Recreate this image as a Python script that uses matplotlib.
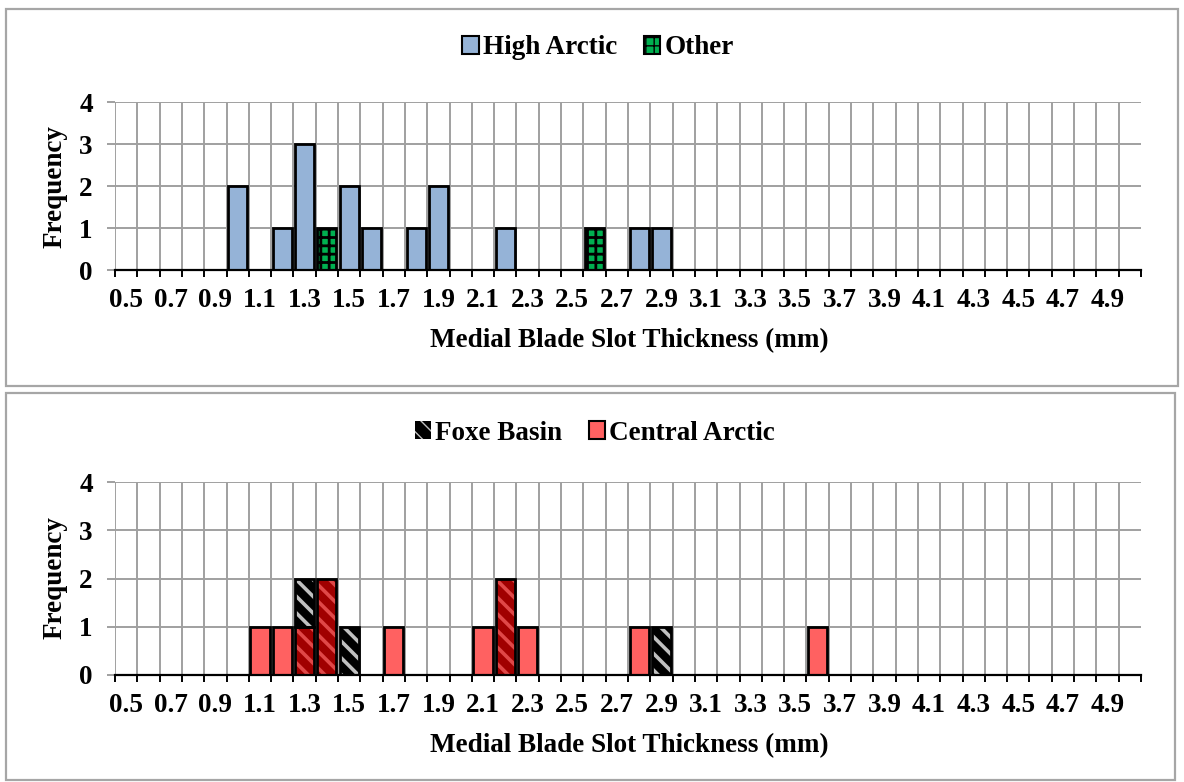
import numpy as np
import matplotlib
matplotlib.use("Agg")
import matplotlib.pyplot as plt
from matplotlib.patches import Patch, Rectangle

# Category axis (mm)
thickness = [0.5, 0.6, 0.7, 0.8, 0.9, 1.0, 1.1, 1.2, 1.3, 1.4, 1.5, 1.6, 1.7, 1.8, 1.9,
             2.0, 2.1, 2.2, 2.3, 2.4, 2.5, 2.6, 2.7, 2.8, 2.9, 3.0, 3.1, 3.2, 3.3, 3.4,
             3.5, 3.6, 3.7, 3.8, 3.9, 4.0, 4.1, 4.2, 4.3, 4.4, 4.5, 4.6, 4.7, 4.8, 4.9, 5.0]

# Top panel
high_arctic_x = [1.0, 1.2, 1.3, 1.5, 1.6, 1.8, 1.9, 2.2, 2.8, 2.9]
high_arctic_n = [2, 1, 3, 2, 1, 1, 2, 1, 1, 1]
other_x = [1.4, 2.6]
other_n = [1, 1]

# Bottom panel
central_x = [1.1, 1.2, 1.7, 2.1, 2.3, 2.8, 3.6]
central_n = [1, 1, 1, 1, 1, 1, 1]
central_dark_x = [1.3, 1.4, 2.2]
central_dark_n = [1, 2, 2]
foxe_x = [1.3, 1.5, 2.9]
foxe_n = [1, 1, 1]

plt.rcParams['font.family'] = ['Liberation Serif', 'DejaVu Serif']
plt.rcParams['font.weight'] = 'bold'
FS = 19.5
W, H = 1184, 782
GRID = '#A0A0A0'
BW = 0.86


def counts(xs, ns):
    arr = np.zeros(len(thickness))
    for x, n in zip(xs, ns):
        arr[thickness.index(x)] = n
    return arr


def plain_bar(ax, vals, bottom, face, hatch=None, hatch_lw=1.0):
    idx = np.nonzero(vals)[0]
    with plt.rc_context({'hatch.linewidth': hatch_lw}):
        ax.bar(idx, vals[idx], BW, bottom=bottom[idx], color=face, edgecolor='black',
               hatch=hatch, linewidth=2, zorder=3)


def hatched_bar(ax, vals, bottom, face, hcol, hatch):
    idx = np.nonzero(vals)[0]
    with plt.rc_context({'hatch.linewidth': 2.6}):
        ax.bar(idx, vals[idx], BW, bottom=bottom[idx], color=face, edgecolor=hcol,
               hatch=hatch, linewidth=0, zorder=3)
    ax.bar(idx, vals[idx], BW, bottom=bottom[idx], fill=False, edgecolor='black',
           linewidth=2, zorder=4)


def px(x0, y0, x1, y1):
    return [x0 / W, 1 - y1 / H, (x1 - x0) / W, (y1 - y0) / H]


def style_axes(ax):
    n = len(thickness)
    ax.set_xlim(-0.5, n - 0.5)
    ax.set_ylim(0, 4)
    for s in ['top', 'right', 'left']:
        ax.spines[s].set_visible(False)
    ax.spines['bottom'].set_linewidth(1.6)
    ax.spines['bottom'].set_zorder(5)
    ax.vlines(np.arange(n) - 0.5, 0, 4, color=GRID, linewidth=1.4, zorder=0)
    ax.set_yticks([0, 1, 2, 3, 4])
    ax.yaxis.grid(True, color=GRID, linewidth=1.4, zorder=0)
    ax.set_axisbelow(True)
    ax.tick_params(axis='y', length=6, width=1.4, color=GRID, pad=10, labelsize=FS)
    ax.set_xticks(np.arange(0, n - 1, 2))
    ax.set_xticklabels(['%.1f' % thickness[i] for i in range(0, n - 1, 2)])
    ax.set_xticks(np.arange(n + 1) - 0.5, minor=True)
    ax.tick_params(axis='x', which='major', length=0, pad=13, labelsize=FS)
    ax.tick_params(axis='x', which='minor', length=5, width=1.4, color='black')
    for lab in ax.get_xticklabels() + ax.get_yticklabels():
        lab.set_fontweight('bold')


fig = plt.figure(figsize=(W / 100, H / 100), dpi=100)

# panel frames
for (x0, y0, x1, y1) in [(6, 9, 1178, 386), (6, 393, 1175, 780)]:
    fig.patches.append(Rectangle((x0 / W, 1 - y1 / H), (x1 - x0) / W, (y1 - y0) / H,
                                 transform=fig.transFigure, fill=False,
                                 edgecolor='#A6A6A6', linewidth=1.6))

# top chart
ax1 = fig.add_axes(px(115, 102, 1141, 270))
ha = counts(high_arctic_x, high_arctic_n)
ot = counts(other_x, other_n)
zero = np.zeros(len(thickness))
plain_bar(ax1, ha, zero, '#95B3D7')
plain_bar(ax1, ot, ha, '#00B050', hatch='++', hatch_lw=2.0)
style_axes(ax1)
fig.text(55 / W, 1 - 187 / H, 'Frequency', rotation=90, ha='center', va='center',
         fontsize=FS, fontweight='bold')
fig.text(629 / W, 1 - 341 / H, 'Medial Blade Slot Thickness (mm)', ha='center',
         va='center', fontsize=FS, fontweight='bold')
with plt.rc_context({'hatch.linewidth': 2.0}):
    h1 = [Patch(facecolor='#95B3D7', edgecolor='black', linewidth=1.5, label='High Arctic'),
          Patch(facecolor='#00B050', edgecolor='black', hatch='++', linewidth=1.5, label='Other')]
fig.legend(handles=h1, loc='center', bbox_to_anchor=(598 / W, 1 - 48 / H), ncol=2,
           frameon=False, fontsize=FS, handlelength=0.6, handleheight=0.6,
           handletextpad=0.15, columnspacing=1.0, borderpad=0)

# bottom chart
ax2 = fig.add_axes(px(115, 482, 1141, 675))
ce = counts(central_x, central_n)
cd = counts(central_dark_x, central_dark_n)
fx = counts(foxe_x, foxe_n)
plain_bar(ax2, ce, zero, '#FF6161')
hatched_bar(ax2, cd, ce, '#A00000', '#E04848', '\\\\')
hatched_bar(ax2, fx, ce + cd, 'black', '#C0C0C0', '\\\\')
style_axes(ax2)
fig.text(55 / W, 1 - 578 / H, 'Frequency', rotation=90, ha='center', va='center',
         fontsize=FS, fontweight='bold')
fig.text(629 / W, 1 - 746 / H, 'Medial Blade Slot Thickness (mm)', ha='center',
         va='center', fontsize=FS, fontweight='bold')
with plt.rc_context({'hatch.linewidth': 2.5}):
    h2 = [Patch(facecolor='black', edgecolor='#C0C0C0', hatch='\\\\', linewidth=0, label='Foxe Basin'),
          Patch(facecolor='#FF6161', edgecolor='black', linewidth=1.5, label='Central Arctic')]
fig.legend(handles=h2, loc='center', bbox_to_anchor=(595 / W, 1 - 433 / H), ncol=2,
           frameon=False, fontsize=FS, handlelength=0.6, handleheight=0.6,
           handletextpad=0.15, columnspacing=1.0, borderpad=0)

fig.savefig('out.png', dpi=100)
